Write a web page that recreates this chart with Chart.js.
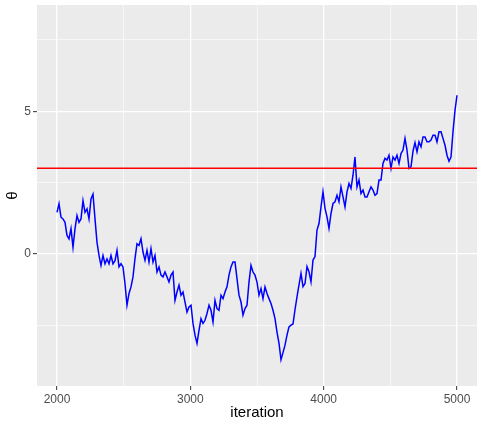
<!DOCTYPE html>
<html>
<head>
<meta charset="utf-8">
<script src="https://cdn.jsdelivr.net/npm/chart.js@4"></script>
<style>
  body { margin: 0; background: #fff; }
  #wrap { width: 485px; height: 428px; }
</style>
</head>
<body>
<div id="wrap"><canvas id="traceChart"></canvas></div>
<script>
// theta, one value every 15 iterations from 2000 to 5000
const theta = [
   1.46,  1.76,  1.29,  1.23,  1.11,  0.65,  0.53,  0.89,  0.24,  0.88,
   1.35,  1.11,  1.23,  1.87,  1.46,  1.58,  1.23,  1.93,  2.10,  1.23,
   0.41, -0.05, -0.40, -0.05, -0.34, -0.17, -0.34, -0.05, -0.34, -0.23,
   0.13, -0.45, -0.34, -0.45, -1.04, -1.79, -1.38, -1.15, -0.80, -0.16,
   0.36,  0.30,  0.54,  0.07, -0.22,  0.13, -0.28,  0.19, -0.28, -0.05,
  -0.63, -0.45, -0.74, -0.80, -0.63, -0.80, -0.98, -0.74, -0.63, -1.62,
  -1.33, -1.09, -1.44, -1.33, -1.68, -2.03, -1.85, -1.79, -2.43, -2.84,
  -3.13, -2.67, -2.26, -2.43, -2.32, -2.08, -1.79, -1.97, -2.38, -1.62,
  -1.91, -1.97, -1.44, -1.56, -1.33, -1.15, -0.74, -0.45, -0.28, -0.28,
  -0.86, -1.44, -1.68, -2.14, -1.91, -1.79, -0.98, -0.40, -0.63, -0.74,
  -0.98, -1.44, -1.21, -1.56, -1.15, -1.38, -1.56, -1.73, -1.97, -2.26,
  -2.73, -3.13, -3.70, -3.45, -3.19, -2.84, -2.55, -2.49, -2.45, -1.95,
  -1.50, -1.08, -0.68, -1.14, -1.03, -0.44, -0.62, -0.97, -0.21, -0.09,
   0.84,  1.07,  1.65,  2.18,  1.60,  1.30,  0.90,  1.42,  1.77,  1.83,
   2.06,  1.83,  2.35,  2.00,  1.65,  2.18,  2.47,  2.30,  2.76,  3.40,
   2.35,  2.59,  2.12,  2.24,  2.00,  2.00,  2.18,  2.35,  2.24,  2.06,
   2.12,  2.59,  2.59,  3.17,  3.35,  3.29,  3.46,  3.00,  3.40,  3.29,
   3.46,  3.17,  3.52,  3.64,  4.05,  3.64,  3.00,  3.05,  3.60,  3.90,
   3.58,  3.93,  3.75,  4.10,  4.10,  3.93,  3.93,  3.99,  4.16,  4.16,
   3.93,  4.28,  4.28,  4.05,  3.81,  3.46,  3.25,  3.40,  4.28,  5.03,
   5.56
];
const firstIter = 2000;
const iterStep = 15;
const iterations = theta.map((v, i) => firstIter + i * iterStep);

const refLine = 3;   // horizontal reference

const xBreaks = [2000, 2500, 3000, 3500, 4000, 4500, 5000];
const xLabels = ["2000", "", "3000", "", "4000", "", "5000"];
const yBreaks = [-2.5, 0, 2.5, 5, 7.5];
const yLabels = ["", "0", "", "5", ""];

const xRange = [1850, 5150];
const yRange = [-4.62, 8.72];

// grey panel behind the grid, like ggplot's theme_grey
const panelBg = {
    id: "panelBg",
    beforeDraw(chart) {
        const a = chart.chartArea;
        const ctx = chart.ctx;
        ctx.save();
        ctx.fillStyle = "#ebebeb";
        ctx.fillRect(a.left, a.top, a.right - a.left, a.bottom - a.top);
        ctx.restore();
    }
};

function isMajor(labels, i) {
    return labels[i] !== "";
}

const tickFont = { family: "Liberation Sans", size: 12 };
const titleFont = { family: "Liberation Sans", size: 15 };

new Chart(document.getElementById("traceChart"), {
    type: "line",
    data: {
        datasets: [{
            label: "ref",
            data: [{ x: xRange[0], y: refLine }, { x: xRange[1], y: refLine }],
            borderColor: "#ff0000",
            borderWidth: 1.5,
            pointRadius: 0
        }, {
            label: "theta",
            data: iterations.map((it, i) => ({ x: it, y: theta[i] })),
            borderColor: "#0000ff",
            borderWidth: 1.5,
            pointRadius: 0,
            tension: 0
        }]
    },
    options: {
        responsive: true,
        maintainAspectRatio: false,
        animation: false,
        layout: { padding: { top: 5, right: 8, left: 0, bottom: 0 } },
        plugins: {
            legend: { display: false },
            tooltip: { enabled: false }
        },
        scales: {
            x: {
                type: "linear",
                min: xRange[0],
                max: xRange[1],
                afterBuildTicks: (s) => { s.ticks = xBreaks.map(v => ({ value: v })); },
                afterFit: (s) => {
                    s.height = 42;
                    s.paddingLeft = 0;
                    s.paddingRight = 0;
                },
                border: { display: false },
                grid: {
                    color: "#ffffff",
                    lineWidth: (c) => isMajor(xLabels, c.index) ? 1.3 : 0.6,
                    tickColor: (c) => isMajor(xLabels, c.index) ? "#333333" : "rgba(0,0,0,0)",
                    tickLength: 4,
                    tickWidth: 1
                },
                ticks: {
                    callback: (v, i) => xLabels[i],
                    color: "#4d4d4d",
                    font: tickFont,
                    maxRotation: 0,
                    autoSkip: false,
                    padding: 2
                },
                title: {
                    display: true,
                    text: "iteration",
                    color: "#000000",
                    font: titleFont,
                    padding: { top: 1, bottom: 6 }
                }
            },
            y: {
                type: "linear",
                min: yRange[0],
                max: yRange[1],
                afterBuildTicks: (s) => { s.ticks = yBreaks.map(v => ({ value: v })); },
                afterFit: (s) => {
                    s.width = 37;
                    s.paddingTop = 0;
                    s.paddingBottom = 0;
                },
                border: { display: false },
                grid: {
                    color: "#ffffff",
                    lineWidth: (c) => isMajor(yLabels, c.index) ? 1.3 : 0.6,
                    tickColor: (c) => isMajor(yLabels, c.index) ? "#333333" : "rgba(0,0,0,0)",
                    tickLength: 4,
                    tickWidth: 1
                },
                ticks: {
                    callback: (v, i) => yLabels[i],
                    color: "#4d4d4d",
                    font: tickFont,
                    autoSkip: false,
                    padding: 2
                },
                title: {
                    display: true,
                    text: "θ",
                    color: "#000000",
                    font: titleFont,
                    padding: { top: 4, bottom: 2 }
                }
            }
        }
    },
    plugins: [panelBg]
});
</script>
</body>
</html>
